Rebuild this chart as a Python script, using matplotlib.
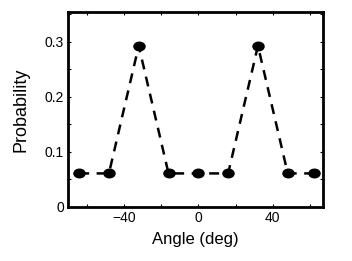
import numpy as np
import matplotlib
matplotlib.use('Agg')
import matplotlib.pyplot as plt
from matplotlib.path import Path
from matplotlib.transforms import Affine2D

angles = [-64, -48, -32, -16, 0, 16, 32, 48, 62]
probs = [0.061, 0.061, 0.293, 0.061, 0.061, 0.061, 0.293, 0.061, 0.061]
xticks = [-60, -40, -20, 0, 20, 40, 60]
xlabels = ['', '\u221240', '', '0', '', '40', '']
yticks = [0, 0.05, 0.1, 0.15, 0.2, 0.25, 0.3, 0.35]
ylabels = ['0', '', '0.1', '', '0.2', '', '0.3', '']

plt.rcParams['font.family'] = ['Liberation Sans', 'DejaVu Sans']

fig = plt.figure(figsize=(3.52, 2.61), dpi=100)
ax = fig.add_axes([0.193, 0.207, 0.725, 0.746])

# slightly wide oval marker like the original
oval = Affine2D().scale(1.3, 1.0).transform_path(Path.unit_circle())
ax.plot(angles, probs, color='black', lw=1.8, ls=(0, (4, 3)),
        marker=oval, markersize=8, markerfacecolor='black', markeredgecolor='black')

ax.set_xlim(-70, 67)
ax.set_ylim(0, 0.354)
ax.set_xticks(xticks)
ax.set_xticklabels(xlabels)
ax.set_yticks(yticks)
ax.set_yticklabels(ylabels)
ax.tick_params(direction='in', length=2, width=0.8, labelsize=10, top=True, right=True, pad=3)
for s in ax.spines.values():
    s.set_linewidth(2)

ax.set_xlabel('Angle (deg)', fontsize=12, labelpad=5)
ax.set_ylabel('Probability', fontsize=13, labelpad=11)

fig.savefig('out.png', dpi=100)
